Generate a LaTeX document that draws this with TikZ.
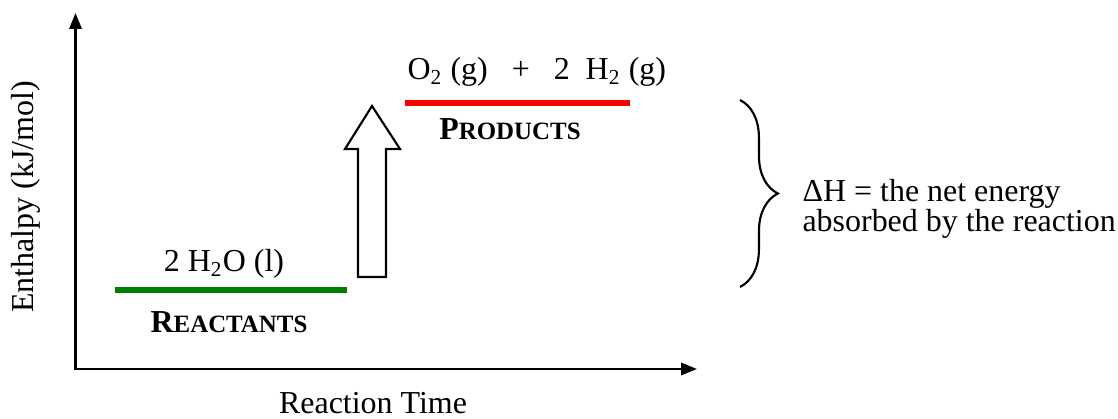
\documentclass[tikz,border=0pt]{standalone}
\usepackage{fontspec}
\setmainfont{Liberation Serif}
\usetikzlibrary{arrows.meta,decorations.pathreplacing}
\definecolor{reactColor}{RGB}{0, 128, 0}
\definecolor{prodColor}{RGB}{255, 0, 0}
\newcommand{\scsmall}[1]{{\fontsize{9.35}{10}\selectfont #1}}

\begin{document}
\begin{tikzpicture}[x=0.0132cm, y=-0.0132cm,
    axis/.style={line width=1pt, {Triangle[length=6pt, width=4.6pt]}-{Triangle[length=6pt, width=4.6pt]}},
    level/.style={line width=2.2pt},
    chem/.style={font=\fontsize{12}{14}\selectfont, inner sep=0pt},
    tag/.style={font=\fontsize{12}{14}\selectfont\bfseries, inner sep=0pt},
    axislabel/.style={font=\fontsize{12}{14}\selectfont, inner sep=0pt}
]
    \useasboundingbox (0,0) rectangle (1118,419);

    % axes
    \coordinate (ytop) at (75.5,13);
    \coordinate (origin) at (75.5,369);
    \coordinate (xend) at (697,369);
    \draw[axis] (ytop) -- (origin) -- (xend);
    \node[axislabel, rotate=90] (ylabel) at (26,197) {Enthalpy (kJ/mol)};
    \node[axislabel, anchor=base] (xlabel) at (373,413) {Reaction Time};

    % reactants
    \coordinate (r1) at (115,290);
    \coordinate (r2) at (347,290);
    \draw[level, reactColor] (r1) -- (r2);
    \node[chem, anchor=base] (water) at (224,272) {2 H\textsubscript{2}O (l)};
    \node[tag, anchor=base] (reactants) at (229,333) {R\scsmall{EACTANTS}};

    % products
    \coordinate (p1) at (405,103);
    \coordinate (p2) at (630,103);
    \draw[level, prodColor] (p1) -- (p2);
    \node[chem, anchor=base west] (gases) at (407,80) {O\textsubscript{2} (g)~~~+~~~2~~H\textsubscript{2} (g)};
    \node[tag, anchor=base] (products) at (510,140) {P\scsmall{RODUCTS}};

    % block arrow
    \draw[line width=0.8pt, line join=miter] (358,277) -- (358,149) -- (345,149) -- (372,106)
        -- (400,149) -- (386,149) -- (386,277) -- cycle;

    % delta H
    \coordinate (b1) at (740,100);
    \coordinate (b2) at (740,287);
    \draw[line width=0.8pt, decorate, decoration={brace, amplitude=0.5cm}] (b1) -- (b2);
    \node[chem, anchor=west, align=left, font=\fontsize{12}{11.25}\selectfont] (dH) at (802,209)
        {ΔH = the net energy\\absorbed by the reaction};
\end{tikzpicture}
\end{document}
